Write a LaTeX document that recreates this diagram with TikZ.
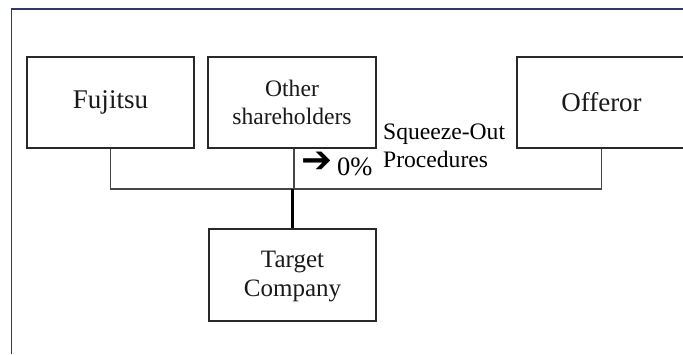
\documentclass[tikz,border=0pt]{standalone}
\usepackage{fontspec}
\setmainfont{Liberation Serif}
\newfontfamily\symfont{DejaVu Sans}
\definecolor{framecol}{RGB}{44,60,104}
\definecolor{boxcol}{RGB}{40,40,40}
\definecolor{linecol}{RGB}{70,70,70}
\begin{document}
\begin{tikzpicture}[x=1bp,y=-1bp,
  box/.style={draw=boxcol,line width=1.2bp,rectangle,inner sep=0pt,align=center,text=black!90},
  conn/.style={draw=linecol,line width=1.3bp},
  thickconn/.style={draw=black,line width=2.2bp},
  framestyle/.style={draw=framecol,line width=1.2bp},
  bigtxt/.style={font=\fontsize{27bp}{28bp}\selectfont},
  midtxt/.style={font=\fontsize{25bp}{29bp}\selectfont},
  smalltxt/.style={font=\fontsize{23.6bp}{28bp}\selectfont}]
\useasboundingbox (0,0) rectangle (683,354);
\draw[framestyle] (683,9) -- (11.7,9) -- (11.7,354);
\node[box,bigtxt,minimum width=167bp,minimum height=91bp] (fuj) at (110.5,102.5) {Fujitsu};
\node[box,smalltxt,minimum width=168bp,minimum height=91bp] (oth) at (292,102.5) {Other\\shareholders};
\node[box,bigtxt,minimum width=169bp,minimum height=91bp] (off) at (601.5,102.5) {Offeror};
\node[box,midtxt,minimum width=167bp,minimum height=92bp] (tgt) at (292.5,275) {\rule{0pt}{20bp}Target\\Company};
\coordinate (j) at (294,189);
\draw[conn] (fuj.south) |- (j) -| (off.south);
\draw[conn] (oth.south -| j) -- (j);
\draw[thickconn] (tgt.north) -- (tgt.north |- j);
\node[smalltxt,anchor=base west,align=left,inner sep=0pt] (sq) at (383,167) {Squeeze-Out\\Procedures};
\node[anchor=base west,inner sep=0pt,font=\fontsize{26.5bp}{28bp}\selectfont] (pct) at (301,175) {\raisebox{3bp}{\symfont\fontsize{37bp}{37bp}\selectfont ➔}\hspace{5bp}0\%};
\end{tikzpicture}
\end{document}
